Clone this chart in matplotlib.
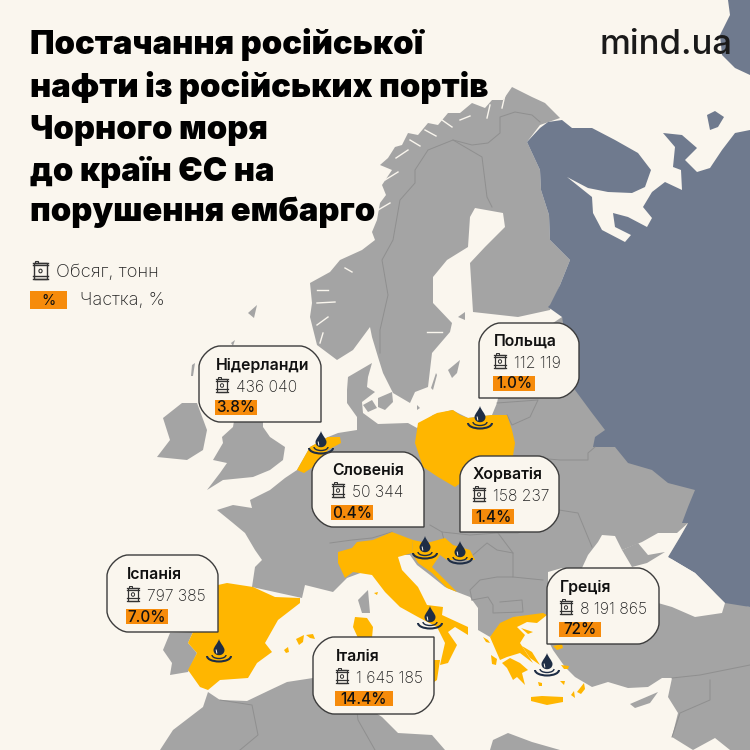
#!/usr/bin/env python3
"""Russian oil deliveries from Black Sea ports to EU countries, map infographic."""

import matplotlib
matplotlib.use("Agg")
import matplotlib.pyplot as plt
from matplotlib.patches import Arc, Ellipse, PathPatch, Polygon, Rectangle
from matplotlib.path import Path

plt.rcParams['font.family'] = ['Inter', 'Noto Sans', 'DejaVu Sans']

# Data
countries = ["Нідерланди", "Польща", "Словенія", "Хорватія", "Іспанія", "Італія", "Греція"]
volumes = ["436 040", "112 119", "50 344", "158 237", "797 385", "1 645 185", "8 191 865"]
shares = ["3.8%", "1.0%", "0.4%", "1.4%", "7.0%", "14.4%", "72%"]

title_lines = ["Постачання російської", "нафти із російських портів", "Чорного моря",
               "до країн ЄС на", "порушення ембарго"]

# Layout of the callouts: left, top, right, bottom, square corner
boxes = [(199, 346, 321, 422, "br"), (479, 323, 579, 398, "bl"), (312, 452, 424, 527, "br"),
         (460, 456, 559, 532, "bl"), (107, 555, 218, 632, "br"), (313, 637, 434, 714, "tr"),
         (547, 568, 659, 644, "bl")]
name_xy = [(216, 370), (494, 346), (332, 475), (473, 479), (127, 579), (336, 661), (560, 592)]
drops_xy = [(321, 440), (480, 415), (425, 545), (460, 550), (219, 648), (430, 615), (547, 662)]

BG = "#faf6ee"
GREY = "#a4a4a4"
BLUE = "#6f7a8e"
YELLOW = "#ffb600"
ORANGE = "#f68b0b"
DARK = "#1e2d45"
INK = "#111111"
LINE = "#8f8f8f"

# Map outlines, in picture pixels
scandinavia = [(545, 103), (532, 97), (522, 92), (512, 87), (503, 100), (492, 100), (485, 108),
               (472, 103), (460, 113), (448, 113), (438, 125), (428, 123), (418, 135), (408, 133),
               (402, 145), (395, 147), (388, 158), (380, 165), (392, 170), (382, 185), (386, 195),
               (380, 203), (377, 220), (372, 232), (375, 240), (362, 250), (340, 260), (330, 272),
               (310, 283), (312, 303), (310, 317), (317, 345), (337, 360), (353, 350), (370, 327),
               (372, 337), (378, 357), (383, 373), (393, 393), (410, 403), (415, 392), (428, 387),
               (432, 353), (450, 332), (452, 323), (433, 303), (433, 277), (447, 260), (468, 247),
               (470, 217), (475, 208), (503, 213), (505, 227), (485, 247), (470, 263), (473, 312),
               (518, 317), (550, 310), (560, 285), (570, 260), (550, 240), (549, 215), (541, 190),
               (540, 170), (527, 142), (540, 125), (560, 118)]
continent = [(252, 587), (255, 567), (262, 560), (255, 550), (245, 533), (233, 523), (217, 510),
             (233, 505), (252, 508), (250, 500), (270, 490), (285, 478), (297, 470), (310, 447),
             (328, 437), (338, 433), (357, 430), (357, 417), (347, 403), (347, 390), (348, 377),
             (372, 363), (368, 377), (367, 387), (375, 392), (362, 402), (363, 413), (378, 424),
             (408, 423), (417, 428), (433, 415), (452, 410), (468, 418), (492, 415), (497, 403),
             (510, 340), (550, 325), (562, 317), (600, 400), (700, 490), (690, 530), (670, 560),
             (725, 600), (750, 607), (750, 750), (730, 750), (715, 738), (693, 750), (672, 737),
             (678, 713), (668, 697), (672, 678), (662, 678), (648, 687), (628, 688), (608, 682),
             (592, 687), (575, 677), (565, 667), (553, 650), (548, 640), (547, 615), (515, 617),
             (490, 637), (478, 630), (478, 608), (470, 597), (457, 592), (445, 587), (430, 575),
             (417, 565), (410, 555), (400, 555), (363, 572), (347, 578), (333, 592), (305, 585),
             (302, 598)]
russia = [(527, 142), (540, 128), (548, 122), (562, 120), (572, 128), (592, 128), (615, 140),
          (638, 153), (651, 170), (645, 187), (632, 193), (608, 192), (588, 188), (567, 177),
          (592, 197), (593, 213), (602, 230), (625, 242), (631, 235), (615, 227), (613, 213),
          (628, 217), (647, 227), (652, 218), (643, 207), (652, 192), (665, 182), (682, 190),
          (681, 170), (673, 167), (675, 147), (663, 133), (682, 135), (697, 148), (685, 160),
          (697, 172), (710, 168), (722, 150), (735, 133), (750, 130), (750, 607), (725, 603),
          (695, 573), (668, 557), (680, 537), (688, 523), (682, 523), (688, 507), (695, 490),
          (668, 483), (652, 470), (628, 463), (615, 447), (593, 447), (595, 437), (605, 430),
          (592, 413), (575, 390), (562, 317), (548, 307), (550, 305), (560, 285), (570, 260),
          (550, 240), (549, 215), (541, 190), (540, 170)]
novaya_zemlya = [(728, 0), (750, 0), (750, 75), (735, 68), (722, 55), (720, 35), (730, 15)]
kolguev = [(707, 115), (715, 111), (724, 117), (718, 127), (710, 130)]
black_sea = [(548, 572), (562, 568), (582, 568), (588, 555), (598, 542), (602, 535), (615, 536),
             (622, 550), (642, 542), (658, 533), (677, 533), (688, 523), (680, 537), (668, 557),
             (695, 573), (725, 603), (722, 613), (695, 617), (672, 607), (658, 603), (620, 630),
             (548, 630)]
crimea = [(622, 550), (638, 543), (648, 555), (665, 552), (647, 563), (632, 567)]
africa = [(160, 750), (173, 730), (203, 707), (208, 692), (220, 700), (247, 701), (270, 690),
          (287, 682), (313, 678), (340, 690), (382, 717), (398, 733), (432, 735), (445, 750)]
libya = [(490, 750), (493, 740), (508, 733), (532, 742), (560, 750)]
britain = [(235, 415), (263, 420), (263, 427), (270, 437), (285, 447), (283, 460), (270, 470),
           (253, 477), (223, 480), (207, 490), (220, 473), (227, 463), (213, 460), (223, 443),
           (222, 437), (233, 427)]
ireland = [(163, 418), (182, 403), (197, 403), (207, 430), (203, 450), (187, 460), (157, 457),
           (170, 440)]
portugal = [(170, 633), (163, 650), (172, 663), (170, 675), (188, 672), (197, 653), (188, 643),
            (193, 632)]
grey_islands = [[(248, 313), (257, 305), (254, 318)],
                [(358, 600), (368, 590), (370, 613), (362, 613)],
                [(448, 370), (460, 360), (457, 373), (452, 378)],
                [(436, 373), (437, 375), (433, 390), (431, 388)],
                [(363, 405), (372, 400), (377, 408), (368, 412)],
                [(378, 398), (392, 392), (393, 402), (385, 410), (378, 407)],
                [(417, 405), (420, 408), (417, 410)],
                [(458, 317), (465, 312), (465, 320)],
                [(630, 704), (658, 692), (650, 703), (635, 708)],
                [(231, 343), (235, 340), (233, 346)],
                [(192, 365), (195, 363), (193, 376), (191, 376)]]

# narrow cuts along the Norwegian coast
fjords = [[(317, 290), (328, 290)], [(317, 303), (335, 302)], [(317, 325), (328, 317)],
          [(320, 343), (323, 333)], [(427, 332), (442, 332)],
          [(378, 210), (390, 203)], [(385, 180), (398, 172)], [(396, 158), (408, 150)],
          [(410, 140), (420, 146)], [(425, 130), (436, 136)], [(442, 120), (452, 127)],
          [(460, 120), (470, 116)], [(490, 105), (487, 118)], [(505, 95), (502, 108)],
          [(345, 268), (352, 272)]]

spain = [(218, 585), (227, 583), (253, 587), (275, 597), (300, 598), (300, 603), (278, 620),
         (265, 643), (272, 652), (257, 663), (248, 678), (220, 680), (208, 690), (200, 687),
         (188, 670), (197, 653), (188, 643), (193, 632), (205, 600)]
italy = [(338, 552), (352, 548), (357, 542), (373, 540), (392, 532), (413, 540), (412, 553),
         (398, 557), (402, 570), (418, 587), (427, 605), (443, 607), (442, 615), (468, 627),
         (468, 635), (455, 627), (448, 632), (457, 645), (448, 663), (440, 665), (445, 643),
         (437, 627), (418, 617), (400, 607), (385, 592), (372, 575), (353, 572), (345, 578),
         (338, 563)]
croatia = [(413, 540), (427, 543), (445, 538), (453, 545), (470, 550), (475, 560), (447, 560),
           (440, 555), (432, 567), (457, 592), (447, 588), (432, 573), (418, 563), (412, 553)]
poland = [(418, 423), (437, 413), (453, 410), (460, 415), (468, 418), (492, 415), (507, 415),
          (512, 430), (515, 443), (513, 456), (500, 470), (465, 480), (455, 487), (438, 477),
          (423, 467), (415, 443)]
netherlands = [(297, 470), (310, 447), (328, 437), (340, 437), (341, 443), (328, 450), (316, 465),
               (304, 473)]
greece = [(490, 637), (500, 623), (513, 617), (543, 613), (547, 615), (537, 623), (527, 622),
          (517, 627), (525, 635), (520, 643), (533, 663), (520, 653), (507, 657), (500, 660)]
peloponnese = [(502, 663), (510, 658), (520, 663), (528, 670), (522, 673), (525, 685), (517, 677),
               (513, 680), (507, 668)]
crete = [(531, 697), (542, 696), (563, 697), (563, 702), (547, 705), (531, 701)]
yellow_islands = [[(355, 617), (367, 618), (373, 627), (372, 638), (358, 638), (353, 627)],
                  [(434, 660), (440, 660), (437, 680), (434, 682)],
                  [(296, 639), (304, 635), (303, 642), (299, 645)],
                  [(306, 635), (313, 634), (315, 639), (310, 638)],
                  [(284, 650), (288, 647), (289, 652), (286, 653)],
                  [(577, 692), (584, 683), (585, 689), (581, 694)],
                  [(553, 646), (562, 644), (563, 648), (557, 650)],
                  [(483, 637), (488, 640), (490, 643), (486, 642)],
                  [(491, 655), (497, 659), (496, 665), (492, 664)],
                  [(561, 665), (569, 666), (568, 669), (564, 669)],
                  [(538, 682), (542, 683), (542, 686), (539, 686)],
                  [(560, 681), (565, 681), (564, 685)],
                  [(571, 695), (574, 691), (575, 698)],
                  [(522, 646), (532, 652), (540, 665), (530, 658)],
                  [(374, 593), (378, 592), (377, 595)],
                  [(521, 628), (533, 632), (528, 634)]]

borders = [[(540, 122), (532, 115), (515, 112), (500, 117), (500, 133), (488, 143), (472, 145),
            (453, 140), (428, 150), (415, 170), (415, 183), (400, 200), (393, 240), (382, 260),
            (388, 295), (380, 330), (380, 353)],
           [(453, 140), (482, 157), (487, 197), (492, 207)],
           [(497, 403), (538, 400), (530, 417), (512, 425), (507, 415)],
           [(513, 456), (560, 460), (588, 460), (588, 453), (595, 447)],
           [(559, 510), (578, 513), (592, 547)],
           [(498, 533), (518, 533), (559, 510)],
           [(442, 532), (444, 540), (455, 547)],
           [(473, 555), (487, 543), (497, 550), (513, 553), (513, 577), (497, 577), (480, 580),
            (470, 590), (472, 600)],
           [(513, 577), (543, 580)],
           [(472, 600), (488, 597), (493, 605), (493, 613), (523, 612), (522, 600), (500, 602)],
           [(330, 543), (352, 540), (372, 538), (392, 532)],
           [(430, 525), (442, 532), (470, 535), (498, 533), (513, 553)],
           [(220, 700), (252, 705), (258, 735), (240, 750)],
           [(355, 695), (358, 720), (375, 750)],
           [(672, 678), (700, 675), (750, 665)],
           [(672, 737), (680, 713), (710, 700), (710, 680)]]


def draw_drop(ax, x, y):
    # oil drop standing on two ripples, x/y is the middle of the drop
    verts = [(x, y - 9), (x - 1, y - 5), (x - 5.5, y - 1), (x - 5.5, y + 2),
             (x - 5.5, y + 9), (x + 5.5, y + 9), (x + 5.5, y + 2),
             (x + 5.5, y - 1), (x + 1, y - 5), (x, y - 9)]
    codes = [Path.MOVETO] + [Path.CURVE4] * 9
    ax.add_patch(PathPatch(Path(verts, codes), fc=DARK, ec="none", zorder=6))
    ax.plot([x - 2.8, x - 2.2], [y + 2, y + 5], color=BG, lw=0.7, zorder=6)
    ax.add_patch(Arc((x, y + 8), 24, 11, theta1=0, theta2=180, ec=DARK, lw=1.5, zorder=6))
    ax.add_patch(Arc((x, y + 7), 14, 7, theta1=0, theta2=180, ec=DARK, lw=1.0, zorder=6))


def draw_barrel(ax, x, y, w=12, h=16, lw=0.9):
    # x/y is the top left corner of the barrel icon
    ax.add_patch(Rectangle((x + 1, y + 1.5), w - 2, h - 3, fc="none", ec="#333333", lw=lw, zorder=8))
    for yy in (y + 1.5, y + 4, y + h - 4, y + h - 1.5):
        ax.plot([x, x + w], [yy, yy], color="#333333", lw=lw, zorder=8)
    ax.add_patch(Rectangle((x + 2, y - 0.5), 3, 2, fc="none", ec="#333333", lw=lw * 0.8, zorder=8))
    ax.add_patch(Ellipse((x + w / 2, y + h / 2 + 0.5), 3.2, 3.6, fc="none", ec="#333333", lw=lw * 0.8, zorder=8))


def draw_box(ax, left, top, right, bottom, square, r=21):
    # rounded callout with one square corner
    k = r * 0.45
    tl = 0 if square == "tl" else r
    tr = 0 if square == "tr" else r
    br = 0 if square == "br" else r
    bl = 0 if square == "bl" else r
    verts = [(left + tl, top), (right - tr, top)]
    codes = [Path.MOVETO, Path.LINETO]
    if tr:
        verts += [(right - tr + k, top), (right, top + tr - k), (right, top + tr)]
        codes += [Path.CURVE4] * 3
    verts.append((right, bottom - br))
    codes.append(Path.LINETO)
    if br:
        verts += [(right, bottom - br + k), (right - br + k, bottom), (right - br, bottom)]
        codes += [Path.CURVE4] * 3
    verts.append((left + bl, bottom))
    codes.append(Path.LINETO)
    if bl:
        verts += [(left + bl - k, bottom), (left, bottom - bl + k), (left, bottom - bl)]
        codes += [Path.CURVE4] * 3
    verts.append((left, top + tl))
    codes.append(Path.LINETO)
    if tl:
        verts += [(left, top + tl - k), (left + tl - k, top), (left + tl, top)]
        codes += [Path.CURVE4] * 3
    ax.add_patch(PathPatch(Path(verts, codes), fc=BG, ec="#3c3c3c", lw=1.0, zorder=7))


fig = plt.figure(figsize=(7.5, 7.5), dpi=100, facecolor=BG)
ax = fig.add_axes([0, 0, 1, 1])
ax.set_xlim(0, 750)
ax.set_ylim(750, 0)
ax.axis("off")

for shape in [scandinavia, continent, africa, libya, britain, ireland, portugal] + grey_islands:
    ax.add_patch(Polygon(shape, fc=GREY, ec="none", zorder=1))
for shape in [russia, novaya_zemlya, kolguev]:
    ax.add_patch(Polygon(shape, fc=BLUE, ec="none", zorder=2))
ax.add_patch(Polygon(black_sea, fc=BG, ec="none", zorder=3))
ax.add_patch(Polygon(crimea, fc=GREY, ec="none", zorder=3))
for line in borders:
    ax.plot([p[0] for p in line], [p[1] for p in line], color=LINE, lw=0.7, zorder=3)
for line in fjords:
    ax.plot([p[0] for p in line], [p[1] for p in line], color=BG, lw=1.0, zorder=3)
for shape in [spain, italy, croatia, poland, netherlands, greece, peloponnese, crete] + yellow_islands:
    ax.add_patch(Polygon(shape, fc=YELLOW, ec="none", zorder=4))

for x, y in drops_xy:
    draw_drop(ax, x, y)

for (left, top, right, bottom, square) in boxes:
    draw_box(ax, left, top, right, bottom, square)

for i, country in enumerate(countries):
    x, y = name_xy[i]
    ax.text(x, y, country, fontsize=11.4, fontweight="semibold", color=INK, va="baseline", zorder=9)
    draw_barrel(ax, x, y + 7)
    ax.text(x + 20, y + 22, volumes[i], fontsize=11.3, fontweight="light", color="#222222",
            va="baseline", zorder=9)
    tag_w = 58 if len(shares[i]) > 4 else 42
    ax.add_patch(Rectangle((x - 1, y + 30), tag_w, 15, fc=ORANGE, ec="none", zorder=8))
    ax.text(x - 1 + tag_w / 2, y + 42.5, shares[i], fontsize=11, fontweight="medium", color=INK,
            ha="center", va="baseline", zorder=9)

# Title
for line, base in zip(title_lines, [54, 97, 139, 181, 221]):
    ax.text(30, base, line, fontsize=23.6, fontweight="black", color="#000000", va="baseline", zorder=10)
ax.text(600, 54, "mind.ua", fontsize=25, fontweight="medium", color="#1a1a1a", va="baseline", zorder=10)

# Legend
draw_barrel(ax, 33, 261, w=15, h=19, lw=1.0)
ax.text(56, 277, "Обсяг, тонн", fontsize=13.3, fontweight="light", color="#222222", va="baseline", zorder=10)
ax.add_patch(Rectangle((30, 291), 37, 18, fc=ORANGE, ec="none", zorder=8))
ax.text(48.5, 305, "%", fontsize=10.5, color=INK, ha="center", va="baseline", zorder=10)
ax.text(80, 305, "Частка, %", fontsize=13, fontweight="light", color="#222222", va="baseline", zorder=10)

fig.savefig("out.png", dpi=100, facecolor=BG)
